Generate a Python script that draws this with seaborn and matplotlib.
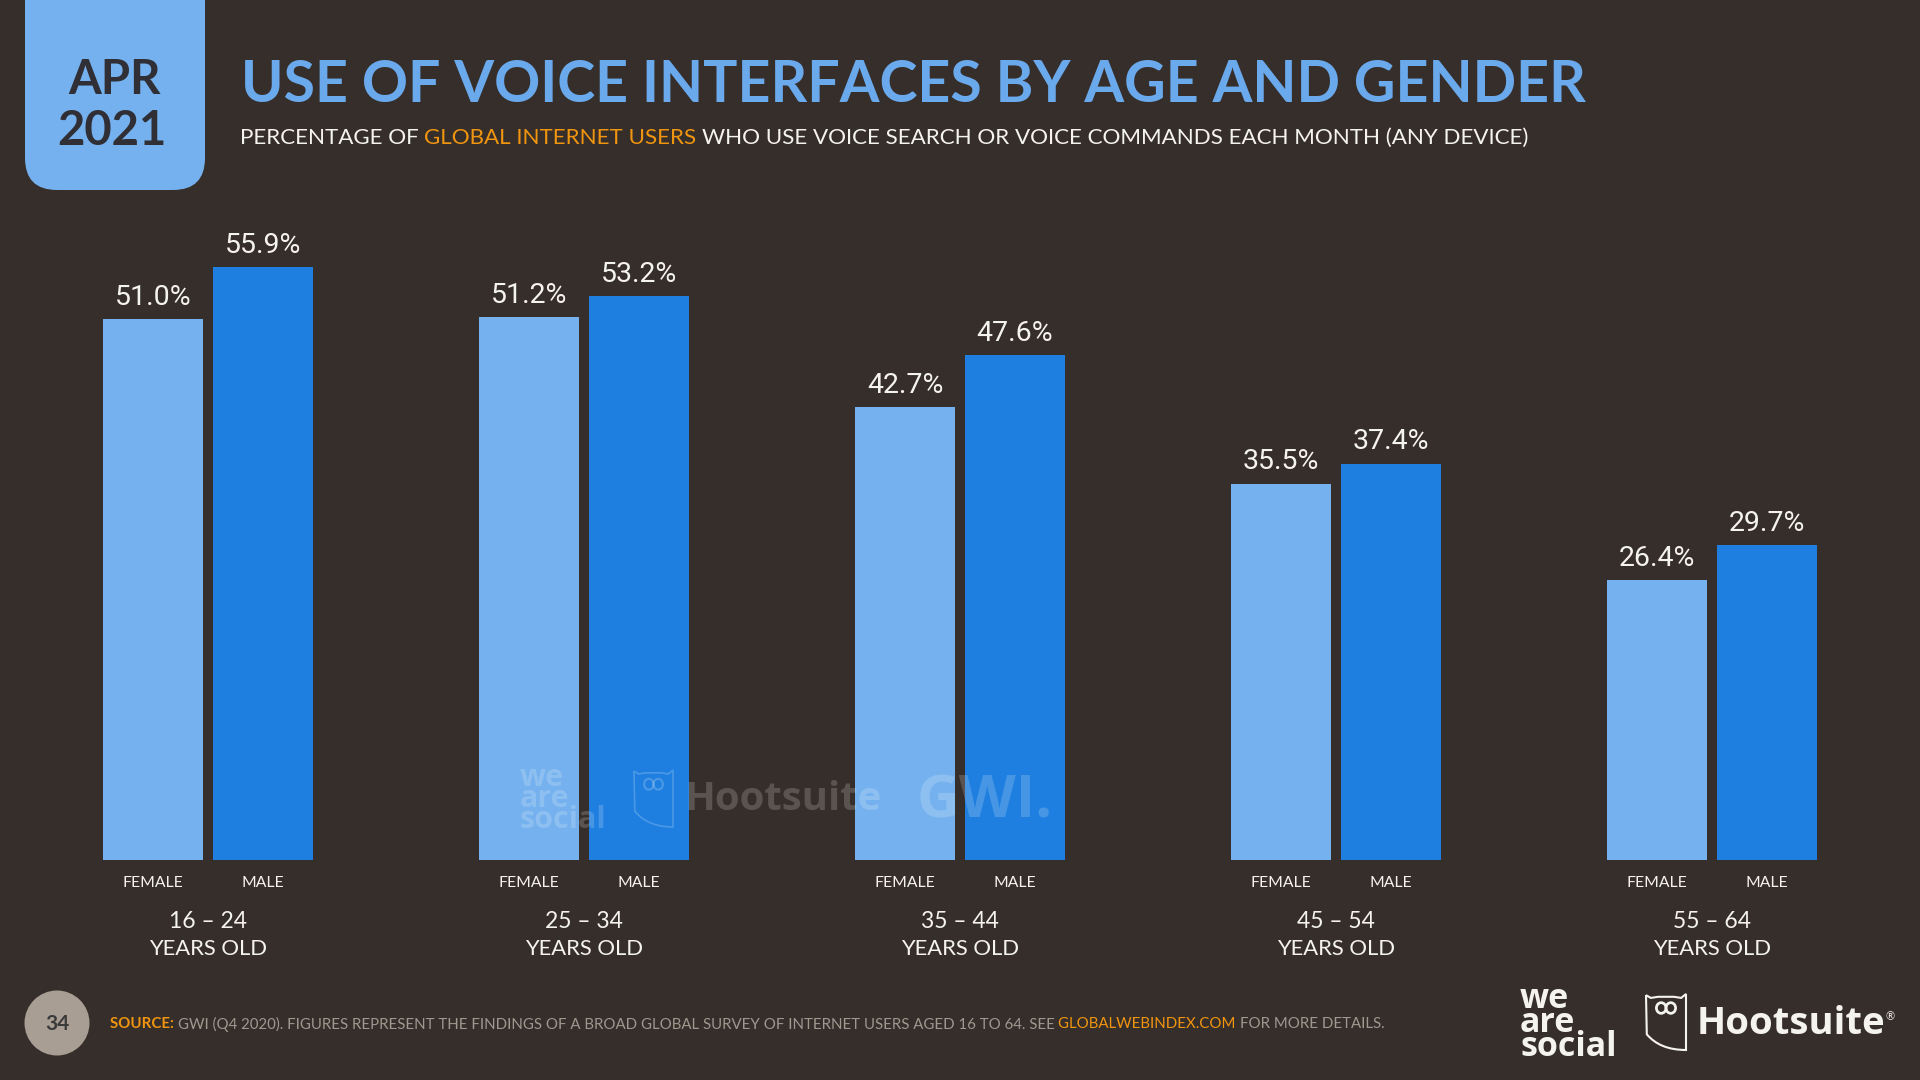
import pandas as pd
import numpy as np
import matplotlib
matplotlib.use('Agg')
import matplotlib.pyplot as plt
import seaborn as sns
from matplotlib.patches import FancyBboxPatch, Ellipse, PathPatch
from matplotlib.path import Path

age_groups = ['16 – 24', '25 – 34', '35 – 44', '45 – 54', '55 – 64']
female_values = [51.0, 51.2, 42.7, 35.5, 26.4]
male_values = [55.9, 53.2, 47.6, 37.4, 29.7]
gender_labels = ['FEMALE', 'MALE']

BG = '#362E2A'
LIGHT_BLUE = '#74B1EE'
DARK_BLUE = '#1E7FE0'
TITLE_BLUE = '#6AA9EC'
ORANGE = '#F0950F'
GREY = '#A0978E'
WHITE = '#F5F3F0'

BODY_FONT = ['Lato', 'DejaVu Sans']
NUM_FONT = ['Roboto', 'DejaVu Sans']
LOGO_FONT = ['Open Sans', 'DejaVu Sans']


def text_run(ax, x, y, parts, size):
    # draws coloured pieces one after the other on the same line
    renderer = ax.figure.canvas.get_renderer()
    for part in parts:
        weight = part[2] if len(part) > 2 else 'normal'
        txt = ax.text(x, y, part[0], color=part[1], fontsize=size, va='center', ha='left',
                      family=BODY_FONT, fontweight=weight)
        x += txt.get_window_extent(renderer).width


def draw_owl(ax, x, y, w, h, color, alpha=1.0, lw=1.5):
    verts = [
        (x, y + 0.02 * h), (x + 0.12 * w, y + 0.07 * h), (x + 0.3 * w, y + 0.05 * h),
        (x + 0.5 * w, y + 0.05 * h), (x + 0.7 * w, y + 0.05 * h), (x + 0.88 * w, y + 0.07 * h),
        (x + w, y), (x + w, y + h), (x + 0.35 * w, y + h),
        (x + 0.02 * w, y + 0.72 * h), (x, y + 0.02 * h),
    ]
    codes = [Path.MOVETO, Path.LINETO, Path.LINETO, Path.LINETO, Path.LINETO, Path.LINETO,
             Path.LINETO, Path.LINETO, Path.CURVE3, Path.CURVE3, Path.LINETO]
    ax.add_patch(PathPatch(Path(verts, codes), fill=False, edgecolor=color, lw=lw, alpha=alpha))
    for cx in (x + 0.38 * w, x + 0.62 * w):
        ax.add_patch(Ellipse((cx, y + 0.25 * h), 0.24 * w, 0.19 * h, fill=False,
                             edgecolor=color, lw=lw * 1.3, alpha=alpha))


df = pd.DataFrame({
    'age': age_groups * 2,
    'gender': [gender_labels[0]] * 5 + [gender_labels[1]] * 5,
    'value': female_values + male_values,
})

sns.set_theme(style='white')
plt.rcParams['font.family'] = BODY_FONT

fig = plt.figure(figsize=(19.2, 10.8), dpi=100, facecolor=BG)
canvas_w, canvas_h = 1920, 1080
base_y = 860
px_per_pct = 10.6
group_step = 376
first_center = 208
bar_span = 0.585

ax = fig.add_axes([0, (canvas_h - base_y) / canvas_h, 1, base_y / canvas_h])
ax.set_facecolor('none')
sns.barplot(data=df, x='age', y='value', hue='gender', hue_order=gender_labels,
            palette=[LIGHT_BLUE, DARK_BLUE], width=bar_span, gap=0.0909, saturation=1,
            legend=False, linewidth=0, ax=ax)
ax.set_xlim(-first_center / group_step, (canvas_w - first_center) / group_step)
ax.set_ylim(0, base_y / px_per_pct)
sns.despine(ax=ax, left=True, bottom=True)
ax.set_ylabel('')
ax.set_xlabel('')
ax.set_yticks([])

offset = bar_span / 4
tick_pos = []
tick_text = []
for i in range(len(age_groups)):
    tick_pos += [i - offset, i + offset]
    tick_text += gender_labels
ax.set_xticks(tick_pos)
ax.set_xticklabels(tick_text, fontsize=11.3, color=WHITE, family=BODY_FONT)
ax.tick_params(axis='x', length=0, pad=11.5)

for container in ax.containers:
    ax.bar_label(container, fmt='%.1f%%', padding=6, color=WHITE, fontsize=20.5,
                 family=NUM_FONT)

# overlay in pixel coordinates for the slide furniture
over = fig.add_axes([0, 0, 1, 1], zorder=5)
over.set_xlim(0, canvas_w)
over.set_ylim(canvas_h, 0)
over.axis('off')
over.patch.set_alpha(0)

for i, age in enumerate(age_groups):
    cx = first_center + i * group_step
    over.text(cx, 921, age, ha='center', va='center', color=WHITE, fontsize=16.5)
    over.text(cx, 949, 'YEARS OLD', ha='center', va='center', color=WHITE, fontsize=15.8)

# date badge
over.add_patch(FancyBboxPatch((25, -60), 180, 250, boxstyle='round,pad=0,rounding_size=32',
                              facecolor=LIGHT_BLUE, edgecolor='none'))
over.text(115, 80, 'APR', ha='center', va='center', color='#2F2F35', fontsize=34, fontweight='bold')
over.text(112, 131, '2021', ha='center', va='center', color='#2F2F35', fontsize=34, fontweight='bold')

over.text(241, 86, 'USE OF VOICE INTERFACES BY AGE AND GENDER', ha='left', va='center',
          color=TITLE_BLUE, fontsize=41.2, fontweight='bold')
fig.canvas.draw()
text_run(over, 240, 138, [
    ('PERCENTAGE OF ', WHITE),
    ('GLOBAL INTERNET USERS ', ORANGE),
    ('WHO USE VOICE SEARCH OR VOICE COMMANDS EACH MONTH (ANY DEVICE)', WHITE),
], 16.1)

# footer
over.add_patch(Ellipse((57, 1023), 65, 65, facecolor='#A89E94', edgecolor='none'))
over.text(57, 1024, '34', ha='center', va='center', color='#3A3A3A', fontsize=15, fontweight='bold')
text_run(over, 110, 1024, [
    ('SOURCE: ', ORANGE, 'bold'),
    ('GWI (Q4 2020). FIGURES REPRESENT THE FINDINGS OF A BROAD GLOBAL SURVEY OF INTERNET USERS AGED 16 TO 64. SEE ', GREY),
    ('GLOBALWEBINDEX.COM ', ORANGE),
    ('FOR MORE DETAILS.', GREY),
], 10.83)

over.text(1520, 1023, 'we\nare\nsocial', ha='left', va='center', color=WHITE, fontsize=24.5,
          fontweight='bold', family=LOGO_FONT, linespacing=0.62)
draw_owl(over, 1646, 994, 40, 56, WHITE)
over.text(1697, 1024, 'Hootsuite', ha='left', va='center', color=WHITE, fontsize=27.5, fontweight='bold',
          family=LOGO_FONT)
over.text(1890, 1017, '®', ha='center', va='center', color=WHITE, fontsize=8)

# faint watermark across the bars
over.text(520, 799, 'we\nare\nsocial', ha='left', va='center', color='white', alpha=0.18, fontsize=22,
          fontweight='bold', family=LOGO_FONT, linespacing=0.62)
draw_owl(over, 634, 770, 39, 57, 'white', alpha=0.2, lw=1.2)
over.text(684, 799, 'Hootsuite', ha='left', va='center', color='white', alpha=0.18, fontsize=29,
          fontweight='bold', family=LOGO_FONT)
over.text(917, 802, 'GWI.', ha='left', va='center', color='white', alpha=0.18, fontsize=42.5,
          fontweight='bold', family=LOGO_FONT)

fig.savefig('out.png', dpi=100, facecolor=BG)
